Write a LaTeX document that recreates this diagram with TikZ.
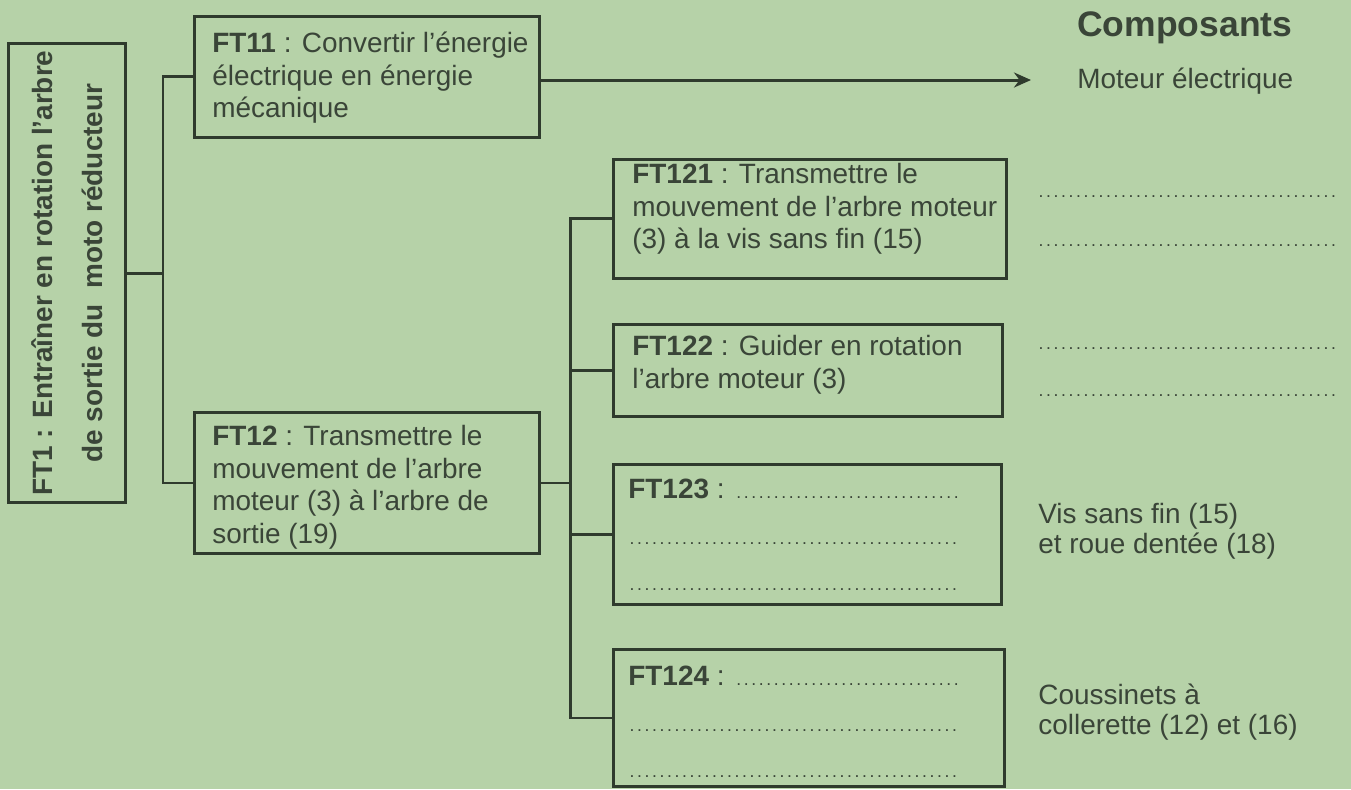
\documentclass[tikz,border=0pt]{standalone}
\usepackage{fontspec}
\setmainfont{Liberation Sans}
\usetikzlibrary{arrows.meta,positioning}
\definecolor{FondVert}{HTML}{B6D2A8}
\definecolor{TraitFonce}{HTML}{2F3B2D}
\definecolor{TexteGris}{HTML}{3A4538}
\newcommand\pointilles[1]{\mbox{\fontsize{10pt}{12pt}\selectfont\leaders\hbox to 0.15cm{\hss.\hss}\hskip#1}}
\tikzset{
  boite/.style={draw=TraitFonce,line width=1.7pt,rectangle,inner sep=0pt,anchor=north west},
  texte/.style={text=TexteGris,inner sep=0pt,align=left,anchor=north west,font=\fontsize{15.9pt}{18.5pt}\selectfont},
  lien/.style={draw=TraitFonce,line width=1.7pt},
  fleche/.style={lien,-{Stealth[length=0.34cm,width=0.3cm]}}
}

\begin{document}
\begin{tikzpicture}[x=0.02cm,y=-0.02cm]
\path[use as bounding box] (0,0) rectangle (1351,789);
\fill[FondVert] (0,0) rectangle (1351,789);
% fonction principale
\node[boite,anchor=center,rotate=90,minimum width=9.2cm,minimum height=2.34cm,text=TexteGris,align=center,
  font=\fontsize{15.9pt}{18.5pt}\selectfont\bfseries] (ft1) at (67,273)
  {FT1 : Entraîner en rotation l'arbre\\[0.35cm]de sortie du\ \ moto réducteur};
% cadres
\node[boite,minimum width=6.9cm,minimum height=2.42cm] (ft11) at (193,15) {};
\node[boite,minimum width=6.9cm,minimum height=2.82cm] (ft12) at (193,411) {};
\node[boite,minimum width=7.86cm,minimum height=2.38cm] (ft121) at (612,158) {};
\node[boite,minimum width=7.78cm,minimum height=1.84cm] (ft122) at (612,323) {};
\node[boite,minimum width=7.76cm,minimum height=2.8cm] (ft123) at (612,463) {};
\node[boite,minimum width=7.82cm,minimum height=2.74cm] (ft124) at (612,648) {};
% textes des cadres
\node[texte] (t11) at ([shift={(19,17)}]ft11.north west)
  {\textbf{FT11} : Convertir l'énergie\\électrique en énergie\\mécanique};
\node[texte] (t12) at ([shift={(19,14)}]ft12.north west)
  {\textbf{FT12} : Transmettre le\\mouvement de l'arbre\\moteur (3) à l'arbre de\\sortie (19)};
\node[texte] (t121) at ([shift={(20,5)}]ft121.north west)
  {\textbf{FT121} : Transmettre le\\mouvement de l'arbre moteur\\(3) à la vis sans fin (15)};
\node[texte] (t122) at ([shift={(20,12)}]ft122.north west)
  {\textbf{FT122} : Guider en rotation\\l'arbre moteur (3)};
\node[texte] (t123) at ([shift={(16,16)}]ft123.north west)
  {\textbf{FT123} : \pointilles{4.64cm}\\[0.27cm]\pointilles{6.74cm}\\[0.27cm]\pointilles{6.74cm}};
\node[texte] (t124) at ([shift={(16,18)}]ft124.north west)
  {\textbf{FT124} : \pointilles{4.6cm}\\[0.27cm]\pointilles{6.7cm}\\[0.27cm]\pointilles{6.7cm}};
% liaisons
\coordinate (n1) at (163,273);
\coordinate (n2) at (570,481);
\draw[lien] (ft1.south) -- (n1);
\draw[lien] (ft11.west) -| (n1) |- (ft12.west);
\draw[lien] (ft12.east) -- (ft12.east -| n2);
\draw[lien] (ft121.west) -| (n2) |- (ft124.west);
\draw[lien] (ft122.west) -- (ft122.west -| n2);
\draw[lien] (ft123.west) -- (ft123.west -| n2);
% colonne composants
\node[texte,anchor=base west,font=\fontsize{20.2pt}{24pt}\selectfont\bfseries] (composants) at (1077,36) {Composants};
\node[texte,anchor=base west] (moteur) at (1077,88) {Moteur électrique};
\coordinate (pointe) at (1031,80);
\draw[fleche] (ft11.east |- pointe) -- (pointe);
\foreach \y in {197,246,349,396}
  \node[texte,anchor=base west] (pt\y) at (1037,\y) {\pointilles{6.12cm}};
\node[texte,font=\fontsize{15.9pt}{17pt}\selectfont] (vis) at (1038,503) {Vis sans fin (15)\\et roue dentée (18)};
\node[texte,font=\fontsize{15.9pt}{17pt}\selectfont] (coussinets) at (1038,684) {Coussinets à\\collerette (12) et (16)};
\end{tikzpicture}
\end{document}
